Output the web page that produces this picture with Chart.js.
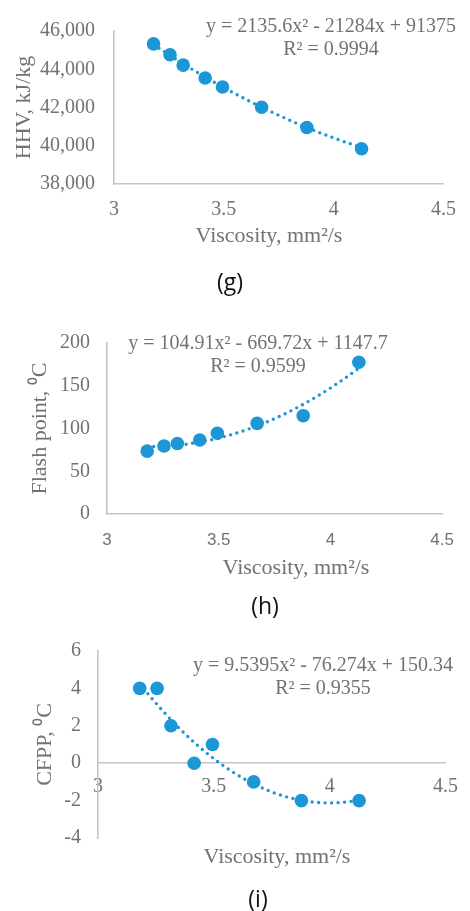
<!DOCTYPE html>
<html>
<head>
<meta charset="utf-8">
<script src="https://cdn.jsdelivr.net/npm/chart.js@4.4.1/dist/chart.umd.min.js"></script>
<style>
  html, body { margin: 0; padding: 0; background: #fff; }
  body { width: 470px; height: 911px; position: relative; overflow: hidden; }
  .panel { position: absolute; left: 0; width: 470px; }
  .caption {
    position: absolute;
    font-family: "Open Sans", sans-serif;
    font-size: 23px;
    color: #111;
    transform: translate(-50%, -50%);
    white-space: nowrap;
  }
</style>
</head>
<body>
<div class="panel" style="top:0;height:300px"><canvas id="chartG"></canvas></div>
<div class="panel" style="top:300px;height:300px"><canvas id="chartH"></canvas></div>
<div class="panel" style="top:600px;height:311px"><canvas id="chartI"></canvas></div>
<div class="caption" style="left:230px;top:281px">(g)</div>
<div class="caption" style="left:265px;top:605px">(h)</div>
<div class="caption" style="left:258px;top:898px">(i)</div>
<script>
// Viscosity of the samples, mm2/s (same x for every panel)
var viscosity = [3.18, 3.255, 3.315, 3.415, 3.494, 3.672, 3.878, 4.127];
// Measured properties
var hhv = [45325, 44760, 44215, 43545, 43075, 42015, 40955, 39845];
var flashPoint = [73.5, 79.5, 82.5, 86.5, 94.5, 106, 115, 177.5];
var cfpp = [4, 4, 2, 0, 1, -1, -2, -2];

// Tick values
var xTicks = [3, 3.5, 4, 4.5];
var hhvTicks = [38000, 40000, 42000, 44000, 46000];
var flashTicks = [0, 50, 100, 150, 200];
var cfppTicks = [-4, -2, 0, 2, 4, 6];

// Polynomial trendlines y = a*x^2 + b*x + c  -> [a, b, c]
var hhvFit = [2135.6, -21284, 91375];
var flashFit = [104.91, -669.72, 1147.7];
var cfppFit = [9.5395, -76.274, 150.34];
var hhvEq = ['y = 2135.6x\u00b2 - 21284x + 91375', 'R\u00b2 = 0.9994'];
var flashEq = ['y = 104.91x\u00b2 - 669.72x + 1147.7', 'R\u00b2 = 0.9599'];
var cfppEq = ['y = 9.5395x\u00b2 - 76.274x + 150.34', 'R\u00b2 = 0.9355'];

var BLUE = '#1b96d6';
var GREY_TEXT = '#727272';
var AXIS = '#c4c4c4';
var SERIF = '"Liberation Serif", "Times New Roman", serif';
var SANS = '"Liberation Sans", Arial, sans-serif';

/**
 * Draws the dotted trendline, the equation label and the x axis title
 */
var trendPlugin = {
    id: 'trend',
    beforeDatasetsDraw: function(chart, args, opts) {
        var xs = chart.scales.x;
        var ys = chart.scales.y;
        var ctx = chart.ctx;
        var c = opts.coef;
        var lo = Math.min.apply(null, viscosity);
        var hi = Math.max.apply(null, viscosity);
        var steps = 120;
        ctx.save();
        ctx.beginPath();
        for (var i = 0; i <= steps; i++) {
            var x = lo + (hi - lo) * i / steps;
            var y = c[0] * x * x + c[1] * x + c[2];
            var px = xs.getPixelForValue(x);
            var py = ys.getPixelForValue(y);
            if (i === 0) {
                ctx.moveTo(px, py);
            } else {
                ctx.lineTo(px, py);
            }
        }
        ctx.setLineDash([0, 6.5]);
        ctx.lineCap = 'round';
        ctx.lineWidth = 3.4;
        ctx.strokeStyle = BLUE;
        ctx.stroke();
        ctx.restore();
    },
    afterDraw: function(chart, args, opts) {
        var ctx = chart.ctx;
        ctx.save();
        ctx.fillStyle = GREY_TEXT;
        ctx.textAlign = 'center';
        ctx.textBaseline = 'middle';
        // Equation + R2 label
        ctx.font = '20px ' + SERIF;
        ctx.fillText(opts.eq[0], opts.eqX, opts.eqY);
        ctx.fillText(opts.eq[1], opts.eqX, opts.eqY + 23);
        // X axis title
        ctx.font = '22px ' + SERIF;
        ctx.fillText('Viscosity, mm\u00b2/s', opts.titleX, opts.titleY);
        ctx.restore();
    }
};

/**
 * Build one scatter panel
 * @param {string} id Canvas id
 * @param {object} cfg Panel settings
 */
function makePanel(id, cfg) {
    var points = cfg.values.map(function(v, i) {
        return {x: viscosity[i], y: v};
    });

    var xScale = {
        type: 'linear',
        min: xTicks[0],
        max: xTicks[xTicks.length - 1],
        position: cfg.xPosition || 'bottom',
        afterBuildTicks: function(scale) {
            scale.ticks = xTicks.map(function(v) {
                return {value: v};
            });
        },
        grid: {display: false, drawTicks: false},
        border: {color: AXIS, width: 1.6},
        ticks: {
            color: GREY_TEXT,
            font: cfg.xFont,
            padding: cfg.xPad,
            maxRotation: 0,
            callback: function(v) {
                return String(v);
            }
        }
    };
    if (cfg.xHeight) {
        xScale.afterFit = function(scale) {
            scale.height = cfg.xHeight;
        };
    }

    return new Chart(document.getElementById(id), {
        type: 'scatter',
        data: {
            datasets: [{
                data: points,
                pointRadius: 6.8,
                pointHoverRadius: 6.8,
                backgroundColor: BLUE,
                borderColor: BLUE,
                borderWidth: 0
            }]
        },
        options: {
            responsive: true,
            maintainAspectRatio: false,
            animation: false,
            layout: {padding: cfg.padding},
            plugins: {
                legend: {display: false},
                tooltip: {enabled: false},
                trend: {
                    coef: cfg.fit,
                    eq: cfg.eq,
                    eqX: cfg.eqX,
                    eqY: cfg.eqY,
                    titleX: cfg.titleX,
                    titleY: cfg.titleY
                }
            },
            scales: {
                x: xScale,
                y: {
                    type: 'linear',
                    min: cfg.yTicks[0],
                    max: cfg.yTicks[cfg.yTicks.length - 1],
                    afterBuildTicks: function(scale) {
                        scale.ticks = cfg.yTicks.map(function(v) {
                            return {value: v};
                        });
                    },
                    afterFit: function(scale) {
                        scale.width = cfg.yWidth;
                    },
                    grid: {display: false, drawTicks: false},
                    border: {color: AXIS, width: 1.6},
                    ticks: {
                        color: GREY_TEXT,
                        font: {family: SERIF, size: 20},
                        padding: cfg.yPad,
                        callback: function(v) {
                            return v.toLocaleString('en-US');
                        }
                    },
                    title: {
                        display: true,
                        text: cfg.yTitle,
                        color: GREY_TEXT,
                        font: {family: SERIF, size: 22},
                        padding: {top: cfg.yTitlePad, bottom: 0}
                    }
                }
            }
        },
        plugins: [trendPlugin]
    });
}

// (g) HHV
makePanel('chartG', {
    values: hhv,
    yTicks: hhvTicks,
    fit: hhvFit,
    eq: hhvEq,
    yTitle: 'HHV, kJ/kg',
    padding: {left: 0, right: 18, top: 18, bottom: 0},
    yWidth: 114,
    yPad: 19,
    yTitlePad: 11,
    xHeight: 116,
    xPad: 14,
    xFont: {family: SERIF, size: 20},
    eqX: 331, eqY: 27,
    titleX: 269, titleY: 236
});

// (h) Flash point
makePanel('chartH', {
    values: flashPoint,
    yTicks: flashTicks,
    fit: flashFit,
    eq: flashEq,
    yTitle: 'Flash point, \u2070C',
    padding: {left: 0, right: 15, top: 43, bottom: 0},
    yWidth: 107,
    yPad: 17,
    yTitlePad: 27,
    xHeight: 86,
    xPad: 16,
    xFont: {family: SANS, size: 17},
    eqX: 258, eqY: 44,
    titleX: 296, titleY: 268
});

// (i) CFPP
makePanel('chartI', {
    values: cfpp,
    yTicks: cfppTicks,
    fit: cfppFit,
    eq: cfppEq,
    yTitle: 'CFPP, \u2070C',
    padding: {left: 0, right: 15, top: 51, bottom: 73},
    yWidth: 98,
    yPad: 17,
    yTitlePad: 32,
    xPosition: {y: 0},
    xPad: 12,
    xFont: {family: SERIF, size: 20},
    eqX: 323, eqY: 66,
    titleX: 277, titleY: 257
});
</script>
</body>
</html>
